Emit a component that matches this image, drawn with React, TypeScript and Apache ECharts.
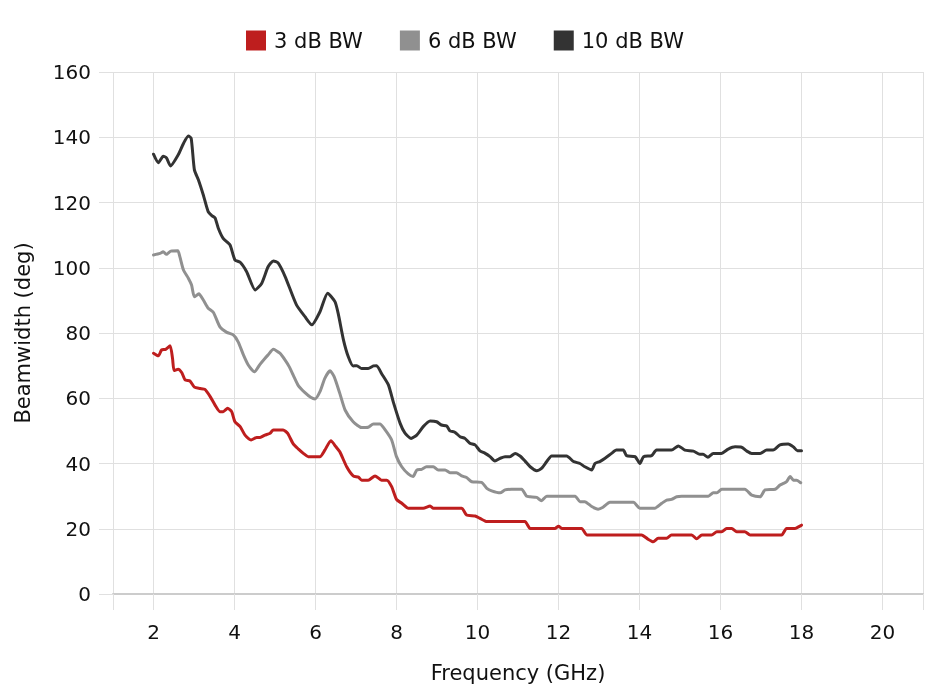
import React, { useEffect, useRef } from "react";
import * as echarts from "echarts";

const seriesNames = ["3 dB BW", "6 dB BW", "10 dB BW"];
const seriesColors = ["#be1e1e", "#909090", "#333333"];

const freq3dB = [2.0,2.12,2.20,2.30,2.41,2.47,2.51,2.61,2.70,2.78,2.90,3.01,3.15,3.27,3.40,3.52,3.64,3.72,3.83,3.93,4.01,4.14,4.26,4.41,4.55,4.63,4.75,4.88,4.96,5.20,5.31,5.45,5.58,5.70,5.82,6.11,6.23,6.38,6.50,6.60,6.77,6.93,7.06,7.14,7.30,7.47,7.63,7.76,7.88,8.0,8.13,8.29,8.66,8.83,8.91,9.61,9.73,9.94,10.06,10.23,11.17,11.30,11.91,12.0,12.08,12.57,12.70,14.05,14.21,14.34,14.46,14.67,14.79,15.29,15.41,15.54,15.78,15.91,16.03,16.15,16.28,16.40,16.60,16.73,17.51,17.63,17.84,17.96,18.0];
const bw3dB = [73.8,73,74.8,75,76.1,72.2,68.5,68.9,67.8,65.6,65.3,63.4,63,62.7,60.5,57.9,55.9,55.9,56.9,55.9,52.8,51.3,48.7,47.2,48,48,48.7,49.3,50.3,50.3,49.3,46,44.4,43.1,42.1,42.1,44.1,47,45.2,43.6,39,36.2,35.8,34.9,34.9,36.2,34.9,34.9,32.9,29,27.8,26.3,26.3,27,26.3,26.3,24.2,23.9,23.2,22.2,22.2,20.1,20.1,20.8,20.1,20.1,18.1,18.1,16.8,16,17.1,17.1,18.1,18.1,16.9,18.1,18.1,19.1,19.1,20.1,20.1,19.1,19.1,18.1,18.1,20.1,20.1,20.8,21.1];

const freq6dB = [2.0,2.16,2.24,2.32,2.43,2.60,2.65,2.74,2.86,2.94,3.01,3.12,3.23,3.35,3.48,3.64,3.81,3.97,4.09,4.22,4.34,4.49,4.63,4.75,4.83,4.96,5.12,5.25,5.35,5.45,5.58,5.74,5.88,5.99,6.11,6.23,6.36,6.46,6.60,6.73,6.93,7.14,7.30,7.43,7.59,7.72,7.88,8.0,8.13,8.29,8.41,8.50,8.62,8.74,8.91,9.03,9.20,9.32,9.48,9.61,9.73,9.86,10.10,10.23,10.35,10.56,10.68,10.84,11.09,11.21,11.30,11.46,11.58,11.71,12.0,12.41,12.53,12.65,12.82,12.98,13.1,13.27,13.64,13.85,14.01,14.38,14.55,14.67,14.79,14.92,15.04,15.70,15.82,15.91,16.03,16.60,16.77,16.98,17.10,17.35,17.47,17.55,17.63,17.72,17.80,17.88,17.98];
const bw6dB = [103.9,104.4,104.9,104.1,105.1,105.2,103.4,99.3,96.8,94.7,91.1,92,90.1,87.6,86.3,81.9,80.2,79.4,77.3,73.3,70.2,68.1,70.4,72.2,73.3,75,73.8,71.7,69.7,67.1,63.8,61.7,60.3,59.8,62,66.1,68.4,66.6,61.5,56.4,52.8,51,51.1,52.1,52.1,50.3,47.2,42.1,39,36.8,36,38,38.2,39,39,38,38,37.2,37.2,36.2,35.7,34.4,34.2,32.4,31.6,31,31.9,32.1,32.1,30,29.8,29.6,28.6,30,30,30,28.3,28.3,26.8,26,26.6,28.1,28.1,28.1,26.3,26.3,27.8,28.8,29,29.8,30,30,31,31,32.1,32.1,30.3,29.8,31.9,32.1,33.4,33.9,34.4,36,34.9,34.9,34.1];

const freq10dB = [2.0,2.12,2.24,2.32,2.42,2.61,2.74,2.86,2.93,3.01,3.11,3.23,3.35,3.44,3.52,3.60,3.72,3.89,4.01,4.14,4.30,4.51,4.67,4.83,4.96,5.08,5.25,5.53,5.74,5.91,6.11,6.30,6.48,6.56,6.69,6.81,6.93,7.02,7.14,7.30,7.43,7.51,7.63,7.80,7.92,8.09,8.21,8.36,8.50,8.66,8.83,8.99,9.11,9.24,9.32,9.44,9.57,9.69,9.81,9.94,10.06,10.19,10.31,10.43,10.56,10.68,10.80,10.93,11.05,11.17,11.30,11.46,11.58,11.71,11.83,12.0,12.2,12.37,12.53,12.65,12.82,12.9,13.02,13.15,13.31,13.43,13.60,13.68,13.89,14.01,14.1,14.3,14.42,14.79,14.96,15.12,15.33,15.49,15.57,15.69,15.82,16.02,16.19,16.36,16.52,16.65,16.77,16.98,17.14,17.30,17.47,17.67,17.80,17.9,18.0];
const bw10dB = [134.8,132.2,134.2,133.7,131.2,134.6,138.1,140.4,139.7,130,126.9,122.3,117.2,116,115.3,112.1,109,107,102.4,101.7,98.8,93.2,95.2,100.3,102.1,101.4,97.3,88.6,85,82.5,86.5,92.2,89.6,86,77.9,72.7,69.9,70,69.1,69.1,69.9,70,67.6,64.1,58.9,52.3,49.3,47.7,48.7,51.3,53,52.8,51.8,51.5,50,49.6,48.2,47.7,46.2,45.7,43.9,43.1,42.1,40.8,41.6,42.1,42.1,43.1,42.3,40.8,39,37.8,38.5,40.6,42.3,42.3,42.3,40.6,40,39,38,40,40.6,41.6,43.1,44.1,44.1,42.4,42.1,40,42.1,42.4,44.1,44.1,45.4,44.1,43.8,42.8,42.8,41.9,43.1,43.1,44.4,45.1,45,43.8,43.1,43.1,44.1,44.1,45.7,46,45.1,43.9,43.9];

const xAxisName = "Frequency (GHz)";
const yAxisName = "Beamwidth (deg)";
const FONT = "'DejaVu Sans', Inter, sans-serif";

const zip = (xs: number[], ys: number[]) => xs.map((x, i) => [x, ys[i]]);

export default function App() {
  const ref = useRef<HTMLDivElement>(null);
  useEffect(() => {
    if (!ref.current) return;
    const chart = echarts.init(ref.current, undefined, { renderer: "svg" });
    const data = [zip(freq3dB, bw3dB), zip(freq6dB, bw6dB), zip(freq10dB, bw10dB)];
    chart.setOption({
      animation: false,
      textStyle: { fontFamily: FONT },
      color: seriesColors,
      legend: {
        top: 25,
        left: "center",
        itemWidth: 20,
        itemHeight: 20,
        itemGap: 37,
        icon: "rect",
        textStyle: { fontSize: 21, color: "#111", fontFamily: FONT, padding: [0, 0, 0, 3] },
        data: seriesNames,
      },
      grid: { left: 113, right: 7, top: 72, bottom: 102, containLabel: false },
      xAxis: {
        type: "value",
        min: 1,
        max: 21,
        minInterval: 2,
        maxInterval: 2,
        name: xAxisName,
        nameLocation: "middle",
        nameGap: 68,
        nameTextStyle: { fontSize: 21, color: "#111", fontFamily: FONT },
        axisLine: { show: true, lineStyle: { color: "#cccccc", width: 2 } },
        axisTick: { show: true, length: 16, lineStyle: { color: "#e0e0e0" } },
        axisLabel: {
          fontSize: 20,
          color: "#111",
          margin: 28,
          fontFamily: FONT,
          formatter: (v: number) => (v % 2 === 0 ? String(v) : ""),
        },
        splitLine: { show: true, lineStyle: { color: "#e0e0e0", width: 1 } },
      },
      yAxis: {
        type: "value",
        min: 0,
        max: 160,
        interval: 20,
        name: yAxisName,
        nameLocation: "middle",
        nameGap: 80,
        nameTextStyle: { fontSize: 21, color: "#111", fontFamily: FONT },
        axisLine: { show: false },
        axisTick: { show: true, length: 14, lineStyle: { color: "#e0e0e0" } },
        axisLabel: { fontSize: 20, color: "#111", margin: 22, fontFamily: FONT },
        splitLine: { show: true, lineStyle: { color: "#e0e0e0", width: 1 } },
      },
      series: seriesNames.map((name, i) => ({
        name,
        type: "line",
        data: data[i],
        showSymbol: false,
        symbol: "none",
        smooth: 0.2,
        lineStyle: { width: 3, color: seriesColors[i], join: "round", cap: "round" },
        itemStyle: { color: seriesColors[i] },
        z: 3 + i,
      })),
    });
    return () => chart.dispose();
  }, []);
  return (
    <div
      ref={ref}
      style={{ position: "fixed", left: 0, top: 0, width: 930, height: 696 }}
    />
  );
}
